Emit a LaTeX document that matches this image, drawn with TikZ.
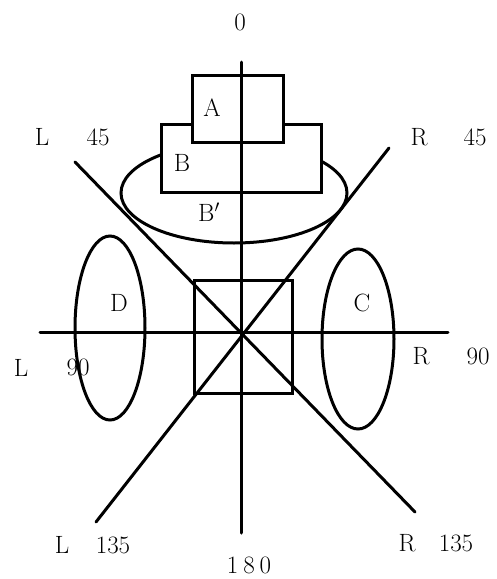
\documentclass[tikz,border=0pt]{standalone}
\begin{document}
\begin{tikzpicture}[x=1pt,y=-1pt,
  ln/.style={line width=3pt,line cap=round},
  box/.style={draw,line width=3pt,fill=white,inner sep=0pt,rectangle},
  lbl/.style={inner sep=0pt,font=\fontsize{25}{30}\selectfont}]
\useasboundingbox (0,0) rectangle (496,579);
% ellipses
\draw[ln] (234,193) ellipse [x radius=113, y radius=50];
\draw[ln] (110,328) ellipse [x radius=35, y radius=92];
\draw[ln] (358,339) ellipse [x radius=36, y radius=90];
% boxes
\node[box,minimum width=160pt,minimum height=68pt] (B) at (241,158) {};
\node[box,minimum width=91pt,minimum height=67pt] (A) at (237.5,108.5) {};
\node[draw,line width=3pt,inner sep=0pt,minimum width=98pt,minimum height=113pt] (S) at (243,336.5) {};
% axis end points
\coordinate (top) at (241,62);
\coordinate (bot) at (241,533);
\coordinate (left) at (40,332);
\coordinate (right) at (448,332);
\coordinate (ul) at (75,162);
\coordinate (lr) at (415,512);
\coordinate (ur) at (389,148);
\coordinate (ll) at (96,522);
\draw[ln] (top) -- (bot);
\draw[ln] (left) -- (right);
\draw[ln] (ul) -- (lr);
\draw[ln] (ur) -- (ll);
% labels
\node[lbl] (la) at (212,108) {A};
\node[lbl] (lb) at (182,163) {B};
\node[lbl] (lbp) at (209,212) {B$'$};
\node[lbl] (ld) at (119,303) {D};
\node[lbl] (lc) at (362,303) {C};
\node[lbl] (l0) at (240,22) {0};
\node[lbl] (lL45) at (42,137) {L};
\node[lbl] (n45a) at (98,137) {45};
\node[lbl] (lR45) at (419,137) {R};
\node[lbl] (n45b) at (475,137) {45};
\node[lbl] (lL90) at (21,368) {L};
\node[lbl] (n90a) at (78,367) {90};
\node[lbl] (lR90) at (421,356) {R};
\node[lbl] (n90b) at (478,356) {90};
\node[lbl] (lL135) at (62,545) {L};
\node[lbl] (n135a) at (113,545) {135};
\node[lbl] (lR135) at (407,543) {R};
\node[lbl] (n135b) at (456,543) {135};
\node[lbl] (n180) at (249,565) {1\hspace{5pt}8\hspace{5pt}0};
\end{tikzpicture}
\end{document}
